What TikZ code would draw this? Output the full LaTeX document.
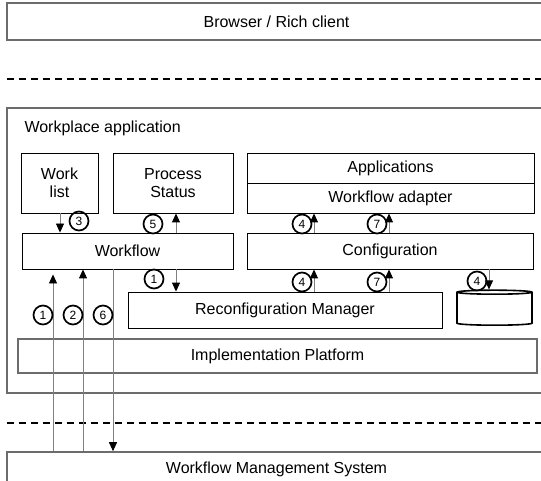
\documentclass[tikz,border=0pt]{standalone}
\usepackage{fontspec}
\setmainfont{Liberation Sans}
\usetikzlibrary{arrows.meta,shapes.geometric}

\begin{document}
\begin{tikzpicture}[x=1pt,y=-1pt,
    outer/.style={draw=gray!85!black,line width=1.6pt,fill=none,
        font=\fontsize{16}{19}\selectfont},
    block/.style={draw,line width=0.9pt,align=center,
        font=\fontsize{16}{18}\selectfont},
    num/.style={circle,draw,line width=1.7pt,inner sep=0pt,minimum size=19pt,
        font=\fontsize{12}{12}\selectfont},
    flow/.style={draw=gray,line width=0.9pt,-{Triangle[length=9pt,width=8pt,color=black]}},
    tier/.style={line width=1.8pt,dash pattern=on 7pt off 5pt}]
\clip (0,0) rectangle (541,481);

% tiers
\node[outer,minimum width=539pt,minimum height=37pt] (browser) at (276.5,21.5) {Browser / Rich client};
\draw[tier] (7,79) -- (541,79);
\node[outer,minimum width=539pt,minimum height=285pt] (wpa) at (276.5,250.5) {};
\node[anchor=west,font=\fontsize{16}{19}\selectfont] (wpalabel) at (21,128) {Workplace application};
\draw[tier] (7,423) -- (541,423);
\node[outer,minimum width=539pt,minimum height=34pt] (wms) at (276.5,469) {Workflow Management System};

% inner blocks
\node[block,minimum width=77pt,minimum height=60pt] (worklist) at (59.5,183) {Work\\list};
\node[block,minimum width=120pt,minimum height=60pt] (status) at (173,183) {Process\\Status};
\node[block,minimum width=287pt,minimum height=30pt] (apps) at (390.5,168) {Applications};
\node[block,minimum width=287pt,minimum height=30pt] (adapter) at (390.5,198) {Workflow adapter};
\node[block,minimum width=211pt,minimum height=36pt] (wf) at (127.5,251) {Workflow};
\node[block,minimum width=286pt,minimum height=36pt] (conf) at (390,251) {Configuration};
\node[block,minimum width=314pt,minimum height=36pt] (reconf) at (285,310) {Reconfiguration Manager};
\node[cylinder,shape border rotate=90,draw,line width=1.6pt,aspect=0.6,
    minimum width=75pt,minimum height=35pt] (db) at (494.5,309.5) {};
\node[outer,minimum width=519pt,minimum height=34pt] (impl) at (277.5,356) {Implementation Platform};

% arrow columns
\coordinate (colA) at (53,0);
\coordinate (colB) at (83,0);
\coordinate (colC) at (113,0);
\coordinate (colD) at (60,0);
\coordinate (colE) at (176,0);
\coordinate (colF) at (314,0);
\coordinate (colG) at (389,0);
\coordinate (colH) at (489,0);

\draw[flow,shorten >=5pt] (wms.north -| colA) -- (wf.south -| colA);
\draw[flow] (wms.north -| colB) -- (wf.south -| colB);
\draw[flow] (wf.south -| colC) -- (wms.north -| colC);
\draw[flow] (worklist.south -| colD) -- (wf.north -| colD);
\draw[flow] (wf.north -| colE) -- (status.south -| colE);
\draw[flow] (wf.south -| colE) -- (reconf.north -| colE);
\draw[flow] (conf.north -| colF) -- (adapter.south -| colF);
\draw[flow] (conf.north -| colG) -- (adapter.south -| colG);
\draw[flow] (reconf.north -| colF) -- (conf.south -| colF);
\draw[flow] (reconf.north -| colG) -- (conf.south -| colG);
\draw[flow] (conf.south -| colH) -- (db.north -| colH);

% step numbers
\node[num] (s3) at (79,221) {3};
\node[num] (s5) at (153,224) {5};
\node[num] (s1r) at (154,279) {1};
\node[num] (s4u) at (302,224) {4};
\node[num] (s7u) at (377,224) {7};
\node[num] (s4l) at (302,282) {4};
\node[num] (s7l) at (377,282) {7};
\node[num] (s4d) at (477,281) {4};
\node[num] (s1) at (43,315) {1};
\node[num] (s2) at (73,315) {2};
\node[num] (s6) at (103,315) {6};
\end{tikzpicture}
\end{document}
